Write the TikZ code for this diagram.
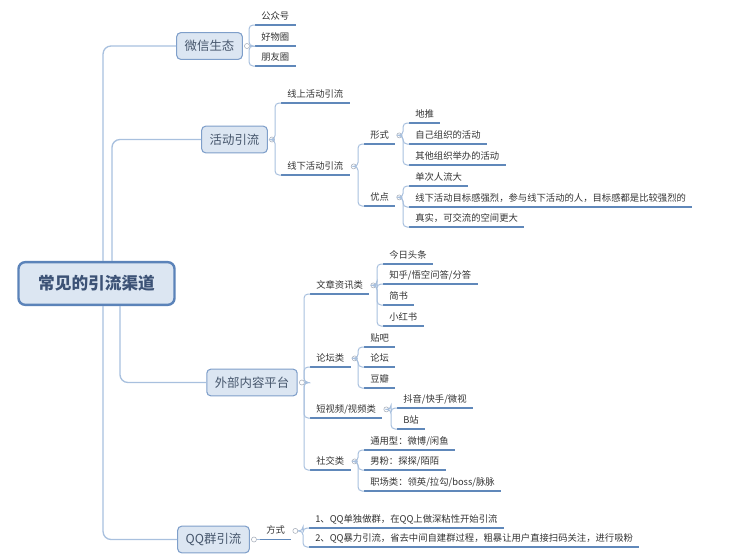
\documentclass[tikz,border=0pt]{standalone}
\usepackage{fontspec}
\setmainfont{Noto Sans CJK SC}
\usepackage{xcolor}
\usepackage{tikz}
\usetikzlibrary{positioning}
\definecolor{rootBlue}{HTML}{5B83B9}
\definecolor{topicBlue}{HTML}{7F9FCA}
\definecolor{boxFill}{HTML}{DCE6F2}
\definecolor{branchBlue}{HTML}{A8C0DE}
\definecolor{ruleBlue}{HTML}{6088BA}
\definecolor{dotGrey}{HTML}{A3ABB8}
\definecolor{inkGrey}{HTML}{333333}
\definecolor{titleInk}{HTML}{3C5276}
\definecolor{topicInk}{HTML}{46566C}
\tikzset{
    box_root/.style={
        rectangle, rounded corners=5pt, draw=rootBlue, line width=1.8pt,
        fill=boxFill, minimum width=117pt, minimum height=32pt,
        align=center, text=titleInk, font=\fontsize{12.5pt}{14pt}\selectfont\bfseries
    },
    box_topic/.style={
        rectangle, rounded corners=3pt, draw=topicBlue, line width=0.8pt,
        fill=boxFill, inner xsep=6pt, minimum height=20pt,
        align=center, text=topicInk, font=\fontsize{9.3pt}{11pt}\selectfont
    },
    leaf/.style={
        anchor=south west, inner xsep=4.5pt, inner ysep=2.5pt,
        text height=6pt, text depth=1.5pt, text=inkGrey,
        font=\fontsize{7pt}{8pt}\selectfont,
        append after command={(\tikzlastnode.south west) edge[rule_line] (\tikzlastnode.south east)}
    },
    dot_mark/.style={
        circle, draw=dotGrey, fill=white, line width=0.4pt,
        inner sep=0pt, minimum size=3.8pt
    },
    rule_line/.style={draw=ruleBlue, line width=1.1pt},
    branch_line/.style={draw=branchBlue, line width=0.75pt, rounded corners=3pt},
    trunk_line/.style={draw=branchBlue, line width=1pt, rounded corners=6pt}
}

\begin{document}
\begin{tikzpicture}[x=0.75pt, y=-0.75pt]
    \useasboundingbox (0,0) rectangle (748,554);

    % Trunk lines out of the root
    \coordinate (rt) at (96.5,283.5);
    \node[box_topic] (wx) at (209.5,46) {微信生态};
    \node[box_topic] (hd) at (234.5,139.5) {活动引流};
    \node[box_topic] (wb) at (252,382.5) {外部内容平台};
    \node[box_topic] (qq) at (213.5,539.5) {QQ群引流};
    \node[box_root] (root) at (rt) {常见的引流渠道};
    \draw[trunk_line] ([xshift=4.9pt]root.north) |- (wx.west);
    \draw[trunk_line] ([xshift=11.6pt]root.north) |- (hd.west);
    \draw[trunk_line] ([xshift=17.6pt]root.south) |- (wb.west);
    \draw[trunk_line] ([xshift=4.9pt]root.south) |- (qq.west);

    \node[dot_mark, right=1pt of wx] (wxd) {};
    \node[dot_mark, right=1pt of hd] (hdd) {};
    \node[dot_mark, right=1pt of wb] (wbd) {};
    \node[dot_mark, right=1pt of qq] (qqd) {};

    % WeChat branch
    \node[leaf] (gzh) at (255,25) {公众号};
    \node[leaf] (hwq) at (255,46) {好物圈};
    \node[leaf] (pyq) at (255,66) {朋友圈};
    \draw[branch_line] (wxd.east) -| ([xshift=-4.5pt]gzh.south west) -- (gzh.south west);
    \draw[branch_line] (wxd.east) -- (hwq.south west);
    \draw[branch_line] (wxd.east) -| ([xshift=-4.5pt]pyq.south west) -- (pyq.south west);

    % Event branch
    \node[leaf] (xs) at (281,103) {线上活动引流};
    \node[leaf] (xx) at (281,175) {线下活动引流};
    \draw[branch_line] (hdd.east) -| ([xshift=-4.5pt]xs.south west) -- (xs.south west);
    \draw[branch_line] (hdd.east) -| ([xshift=-4.5pt]xx.south west) -- (xx.south west);
    \node[dot_mark, right=1pt of xx] (xxd) {};

    \node[leaf] (xsh) at (364,144) {形式};
    \node[leaf] (yd) at (364,206) {优点};
    \draw[branch_line] (xxd.east) -| ([xshift=-4.5pt]xsh.south west) -- (xsh.south west);
    \draw[branch_line] (xxd.east) -| ([xshift=-4.5pt]yd.south west) -- (yd.south west);
    \node[dot_mark, right=1pt of xsh] (xshd) {};
    \node[dot_mark, right=1pt of yd] (ydd) {};

    \node[leaf] (dt) at (409,123) {地推};
    \node[leaf] (zz) at (409,144) {自己组织的活动};
    \node[leaf] (qt) at (409,165) {其他组织举办的活动};
    \draw[branch_line] (xshd.east) -| ([xshift=-4.5pt]dt.south west) -- (dt.south west);
    \draw[branch_line] (xshd.east) -| ([xshift=-4.5pt]zz.south west) -- (zz.south west);
    \draw[branch_line] (xshd.east) -| ([xshift=-4.5pt]qt.south west) -- (qt.south west);

    \node[leaf] (dcr) at (409,186) {单次人流大};
    \node[leaf] (mbg) at (409,207) {线下活动目标感强烈，参与线下活动的人，目标感都是比较强烈的};
    \node[leaf] (zs) at (409,227) {真实，可交流的空间更大};
    \draw[branch_line] (ydd.east) -| ([xshift=-4.5pt]dcr.south west) -- (dcr.south west);
    \draw[branch_line] (ydd.east) -| ([xshift=-4.5pt]mbg.south west) -- (mbg.south west);
    \draw[branch_line] (ydd.east) -| ([xshift=-4.5pt]zs.south west) -- (zs.south west);

    % External content branch
    \node[leaf] (wz) at (310,294) {文章资讯类};
    \node[leaf] (lt) at (310,367) {论坛类};
    \node[leaf] (sp) at (310,418) {短视频/视频类};
    \node[leaf] (sj) at (310,470) {社交类};
    \draw[branch_line] (wbd.east) -| ([xshift=-4.5pt]wz.south west) -- (wz.south west);
    \draw[branch_line] (wbd.east) -| ([xshift=-4.5pt]lt.south west) -- (lt.south west);
    \draw[branch_line] (wbd.east) -| ([xshift=-4.5pt]sp.south west) -- (sp.south west);
    \draw[branch_line] (wbd.east) -| ([xshift=-4.5pt]sj.south west) -- (sj.south west);
    \node[dot_mark, right=1pt of wz] (wzd) {};
    \node[dot_mark, right=1pt of lt] (ltd) {};
    \node[dot_mark, right=1pt of sp] (spd) {};
    \node[dot_mark, right=1pt of sj] (sjd) {};

    \node[leaf] (jr) at (383,264) {今日头条};
    \node[leaf] (zh) at (383,284) {知乎/悟空问答/分答};
    \node[leaf] (js) at (383,305) {简书};
    \node[leaf] (xhs) at (383,326) {小红书};
    \draw[branch_line] (wzd.east) -| ([xshift=-4.5pt]jr.south west) -- (jr.south west);
    \draw[branch_line] (wzd.east) -| ([xshift=-4.5pt]zh.south west) -- (zh.south west);
    \draw[branch_line] (wzd.east) -| ([xshift=-4.5pt]js.south west) -- (js.south west);
    \draw[branch_line] (wzd.east) -| ([xshift=-4.5pt]xhs.south west) -- (xhs.south west);

    \node[leaf] (tb) at (364,347) {贴吧};
    \node[leaf] (ltn) at (364,367) {论坛};
    \node[leaf] (db) at (364,388) {豆瓣};
    \draw[branch_line] (ltd.east) -| ([xshift=-4.5pt]tb.south west) -- (tb.south west);
    \draw[branch_line] (ltd.east) -| ([xshift=-4.5pt]ltn.south west) -- (ltn.south west);
    \draw[branch_line] (ltd.east) -| ([xshift=-4.5pt]db.south west) -- (db.south west);

    \node[leaf] (dy) at (397,408) {抖音/快手/微视};
    \node[leaf] (bz) at (397,429) {B站};
    \draw[branch_line] (spd.east) -| ([xshift=-4.5pt]dy.south west) -- (dy.south west);
    \draw[branch_line] (spd.east) -| ([xshift=-4.5pt]bz.south west) -- (bz.south west);

    \node[leaf] (ty) at (364,450) {通用型：微博/闲鱼};
    \node[leaf] (nf) at (364,470) {男粉：探探/陌陌};
    \node[leaf] (zc) at (364,491) {职场类：领英/拉勾/boss/脉脉};
    \draw[branch_line] (sjd.east) -| ([xshift=-4.5pt]ty.south west) -- (ty.south west);
    \draw[branch_line] (sjd.east) -| ([xshift=-4.5pt]nf.south west) -- (nf.south west);
    \draw[branch_line] (sjd.east) -| ([xshift=-4.5pt]zc.south west) -- (zc.south west);

    % QQ group branch
    \node[leaf] (fs) at (260,539.5) {方式};
    \draw[branch_line] (qqd.east) -- (fs.south west);
    \node[dot_mark, right=1pt of fs] (fsd) {};

    \node[leaf] (f1) at (309,528) {1、QQ单独做群，在QQ上做深粘性开始引流};
    \node[leaf] (f2) at (309,547) {2、QQ暴力引流，省去中间自建群过程，粗暴让用户直接扫码关注，进行吸粉};
    \draw[branch_line] (fsd.east) -| ([xshift=-4.5pt]f1.south west) -- (f1.south west);
    \draw[branch_line] (fsd.east) -| ([xshift=-4.5pt]f2.south west) -- (f2.south west);
\end{tikzpicture}
\end{document}
